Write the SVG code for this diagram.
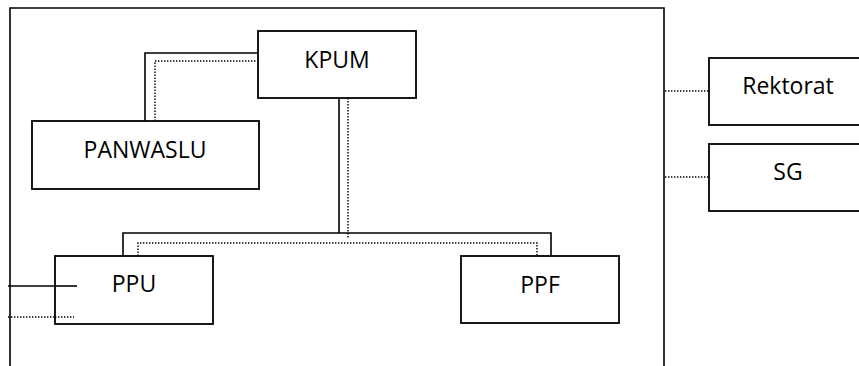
<svg xmlns="http://www.w3.org/2000/svg" width="859" height="366" viewBox="0 0 859 366">
  <style>
    .box { fill: #fff; stroke: #000; stroke-width: 1.8; }
    .frame { fill: none; stroke: #000; stroke-width: 1.6; }
    .solid { fill: none; stroke: #000; stroke-width: 1.6; }
    .dot { fill: none; stroke: #000; stroke-width: 1.4; stroke-dasharray: 1.4 1.6; }
    .lbl { font-family: "Open Sans", "Noto Sans", sans-serif; font-size: 23px; fill: #000; text-anchor: middle; }
  </style>
  <rect width="859" height="366" fill="#fff"/>

  <!-- organisation frame (open at the bottom) -->
  <path class="frame" d="M10 366 V8 H664 V366"/>

  <g id="connectors">
    <!-- KPUM - PANWASLU -->
    <path class="solid" d="M145 121 V53 H258"/>
    <path class="dot" d="M155 121 V61 H258"/>
    <!-- KPUM - PPU / PPF -->
    <path class="solid" d="M339 98 V233"/>
    <path class="dot" d="M348 98 V238"/>
    <path class="solid" d="M123 256 V233 H551 V256"/>
    <path class="dot" d="M138 256 V243 H537 V256"/>
    <!-- PPU side links -->
    <path class="solid" d="M8 286 H77"/>
    <path class="dot" d="M8 317 H74"/>
    <!-- external links -->
    <path class="dot" d="M665 91 H709"/>
    <path class="dot" d="M665 177 H709"/>
  </g>

  <g id="kpum">
    <rect class="box" x="258" y="31" width="158" height="67"/>
    <text class="lbl" x="337" y="68">KPUM</text>
  </g>
  <g id="panwaslu">
    <rect class="box" x="32" y="121" width="227" height="68"/>
    <text class="lbl" x="145" y="158">PANWASLU</text>
  </g>
  <g id="ppu">
    <rect class="box" x="55" y="256" width="158" height="68"/>
    <path class="solid" d="M55 286 H77"/>
    <path class="dot" d="M55 317 H74"/>
    <text class="lbl" x="134" y="292">PPU</text>
  </g>
  <g id="ppf">
    <rect class="box" x="461" y="256" width="158" height="67"/>
    <text class="lbl" x="540" y="293">PPF</text>
  </g>
  <g id="rektorat">
    <rect class="box" x="709" y="58" width="158" height="67"/>
    <text class="lbl" x="788" y="94">Rektorat</text>
  </g>
  <g id="sg">
    <rect class="box" x="709" y="144" width="158" height="67"/>
    <text class="lbl" x="788" y="180">SG</text>
  </g>
</svg>
